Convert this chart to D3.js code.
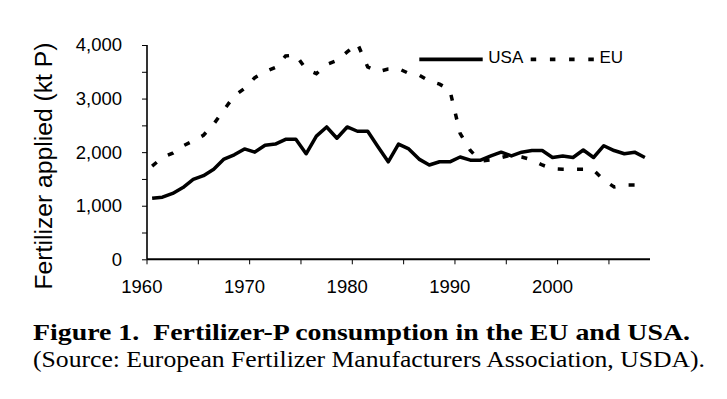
<!DOCTYPE html>
<html>
<head>
<meta charset="utf-8">
<script src="https://cdn.jsdelivr.net/npm/d3@7"></script>
<style>
  html, body { margin: 0; padding: 0; background: #fff; }
  svg { display: block; }
</style>
</head>
<body>
<svg id="chart" width="727" height="399"></svg>
<script>
// ---- data ----
const years = d3.range(1961, 2010);           // 1961..2009
const usaValues = [1140,1160,1230,1340,1490,1560,1680,1870,1950,2060,
                   2000,2130,2150,2240,2240,1970,2300,2470,2260,2470,
                   2390,2390,2100,1820,2150,2060,1870,1760,1820,1820,
                   1910,1850,1850,1930,2000,1930,2000,2030,2030,1900,
                   1930,1900,2040,1900,2120,2030,1970,2000,1900];
const euValues  = [1740,1900,1980,2115,2210,2315,2525,2790,3050,3190,
                   3390,3500,3580,3795,3815,3545,3465,3635,3710,3870,
                   4030,3590,3500,3550,3560,3470,3440,3330,3270,3160,
                   2350,2030,1835,1855,1900,1945,1910,1855,1760,1690,
                   1680,1680,1680,1665,1480,1350,1385,1385];
const yTickValues = d3.range(0, 4001, 500);
const yLabelValues = [0, 1000, 2000, 3000, 4000];
const xTickValues = d3.range(1960.5, 2006, 5);
const xLabelValues = [1960, 1970, 1980, 1990, 2000];
const seriesNames = ["USA", "EU"];
const yTitle = "Fertilizer applied (kt P)";
const caption1 = "Figure 1.  Fertilizer-P consumption in the EU and USA.";
const caption2 = "(Source: European Fertilizer Manufacturers Association, USDA).";

// ---- layout ----
const svg = d3.select("#chart");
const x = d3.scaleLinear().domain([1960.5, 2009.5]).range([147, 650]);
const y = d3.scaleLinear().domain([0, 4000]).range([259.3, 45]);
const sans = "'Liberation Sans', Arial, Helvetica, sans-serif";
const serif = "'Liberation Serif', 'Times New Roman', serif";

// y axis
const yAxis = d3.axisLeft(y).tickValues(yTickValues).tickSize(5).tickPadding(20)
  .tickFormat(d => yLabelValues.includes(d) ? d3.format(",")(d) : "");
const gy = svg.append("g").attr("transform", "translate(147,0)").call(yAxis);
gy.select(".domain").attr("d", `M0,${y(4000)}V${y(0)}`).attr("stroke", "#000").attr("stroke-width", 1.6);
gy.selectAll(".tick line").attr("stroke", "#000").attr("stroke-width", 1);
gy.selectAll(".tick text").attr("font-family", sans).attr("font-size", 18.5).attr("fill", "#000");

// x axis
const gx = svg.append("g").attr("transform", `translate(0,${y(0)})`);
gx.append("line").attr("x1", x(1960.5)).attr("x2", x(2009.5)).attr("y1", 0).attr("y2", 0)
  .attr("stroke", "#000").attr("stroke-width", 2);
gx.selectAll("line.tk").data(xTickValues).join("line").attr("class", "tk")
  .attr("x1", d => x(d)).attr("x2", d => x(d)).attr("y1", 0).attr("y2", 5)
  .attr("stroke", "#000").attr("stroke-width", 1);
gx.selectAll("text").data(xLabelValues).join("text")
  .attr("x", d => x(d)).attr("y", 33.5).attr("text-anchor", "middle")
  .attr("font-family", sans).attr("font-size", 18.5).attr("fill", "#000")
  .text(d => d);

// y title
svg.append("text").attr("transform", "translate(52,166) rotate(-90)")
  .attr("text-anchor", "middle").attr("font-family", sans).attr("font-size", 24.7)
  .attr("fill", "#000").text(yTitle);

// lines
const line = d3.line().x(d => x(d[0])).y(d => y(d[1]));
svg.append("path").datum(years.map((yr, i) => [yr, usaValues[i]]))
  .attr("d", line).attr("fill", "none").attr("stroke", "#000").attr("stroke-width", 3.5)
  .attr("stroke-linejoin", "round");
svg.append("path").datum(euValues.map((v, i) => [years[i], v]))
  .attr("d", line).attr("fill", "none").attr("stroke", "#000").attr("stroke-width", 3.5)
  .attr("stroke-dasharray", "6,13.3");

// legend
const lg = svg.append("g");
lg.append("line").attr("x1", 419.3).attr("x2", 482.7).attr("y1", 59.3).attr("y2", 59.3)
  .attr("stroke", "#000").attr("stroke-width", 3.8);
lg.append("text").attr("x", 488.3).attr("y", 62.5).attr("font-family", sans).attr("font-size", 17)
  .text(seriesNames[0]);
lg.append("line").attr("x1", 530.7).attr("x2", 594).attr("y1", 59.3).attr("y2", 59.3)
  .attr("stroke", "#000").attr("stroke-width", 3.8).attr("stroke-dasharray", "5.5,13.7");
lg.append("text").attr("x", 599.5).attr("y", 62.5).attr("font-family", sans).attr("font-size", 17)
  .text(seriesNames[1]);

// caption
svg.append("text").attr("x", 33).attr("y", 340).attr("font-family", serif).attr("font-size", 24)
  .attr("font-weight", "bold").attr("textLength", 657).attr("lengthAdjust", "spacingAndGlyphs")
  .attr("xml:space", "preserve").style("white-space", "pre").text(caption1);
svg.append("text").attr("x", 33).attr("y", 367).attr("font-family", serif).attr("font-size", 24)
  .attr("textLength", 672).attr("lengthAdjust", "spacingAndGlyphs").text(caption2);
</script>
</body>
</html>
